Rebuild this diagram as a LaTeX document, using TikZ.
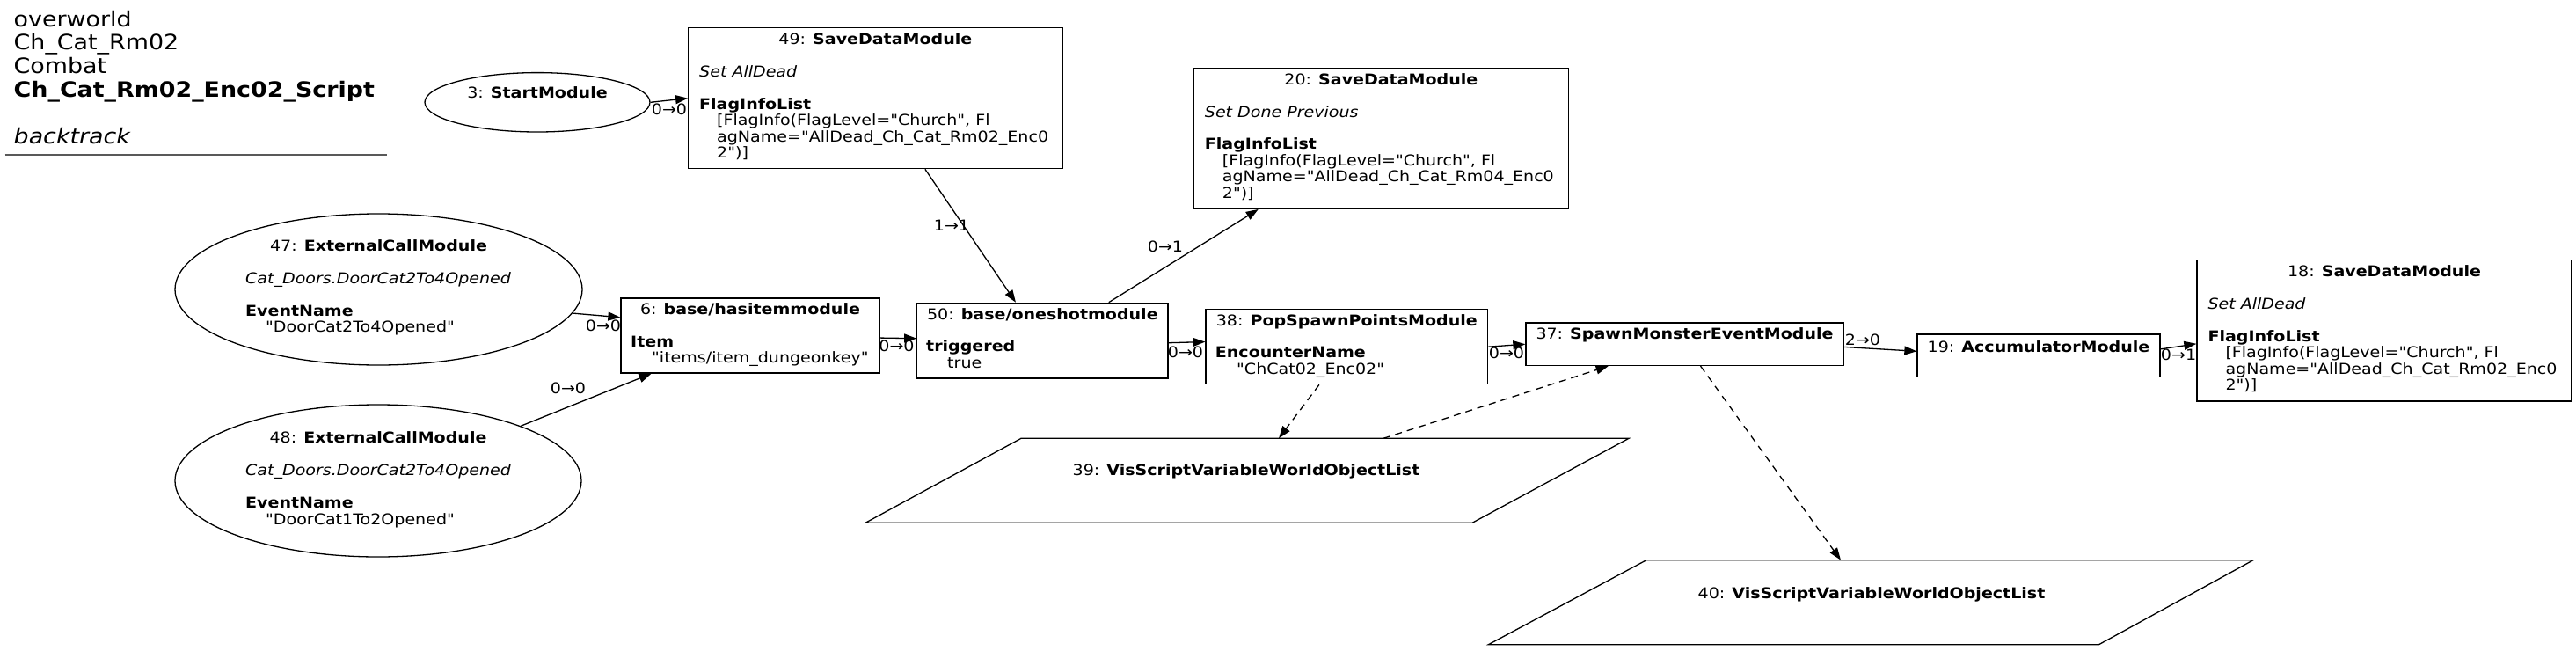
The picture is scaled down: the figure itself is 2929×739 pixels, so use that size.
\documentclass[tikz,border=0pt]{standalone}
\usepackage{fontspec}
\setmainfont{DejaVu Sans}[FakeStretch=1.12, Ligatures=TeXOff]
\usetikzlibrary{arrows.meta,shapes.geometric}
\begin{document}
\begin{tikzpicture}[x=1pt,y=-1pt,
  box/.style={draw, line width=1.3pt, inner sep=0pt},
  oval/.style={ellipse, draw, line width=1.3pt, inner sep=0pt},
  txt/.style={inner sep=0pt, anchor=base west, font=\fontsize{17}{18.4}\selectfont},
  ttl/.style={txt, anchor=base},
  lbl/.style={inner sep=0pt, font=\fontsize{17}{18.4}\selectfont},
  head/.style={inner sep=0pt, anchor=base west, font=\fontsize{24}{26.7}\selectfont},
  conn/.style={line width=1.3pt, -{Triangle[length=14pt,width=10pt]}},
  dconn/.style={conn, dash pattern=on 8pt off 6pt},
  para/.style={draw, line width=1.3pt}
]
\useasboundingbox (0,0) rectangle (2929,739);

% heading
\node[head] (h1) at (15.5,30) {overworld};
\node[head] (h2) at (15.5,56.7) {Ch\_Cat\_Rm02};
\node[head] (h3) at (15.5,83.4) {Combat};
\node[head] (h4) at (15.5,110.1) {\textbf{Ch\_Cat\_Rm02\_Enc02\_Script}};
\node[head] (h5) at (15.5,163.5) {\textit{backtrack}};
\draw[line width=2pt, black!65] (5.7,175.7) -- (440,175.7);

% ellipse 3
\node[oval, minimum width=256pt, minimum height=67.4pt] (e3) at (611,116.3) {};
\node[ttl] (t3) at (611,111) {3: \textbf{StartModule}};

% box 49
\node[box, minimum width=425.3pt, minimum height=160pt] (b49) at (995.4,111.7) {};
\node[ttl] (t49a) at (995.4,50.7) {49: \textbf{SaveDataModule}};
\node[txt] (t49b) at (795,87.5) {\textit{Set AllDead}};
\node[txt] (t49c) at (795,124.3) {\textbf{FlagInfoList}};
\node[txt] (t49d) at (815,142.7) {[FlagInfo(FlagLevel="Church", Fl};
\node[txt] (t49e) at (815,161.1) {agName="AllDead\_Ch\_Cat\_Rm02\_Enc0};
\node[txt] (t49f) at (815,179.5) {2")]};

% box 20
\node[box, minimum width=425.9pt, minimum height=160pt] (b20) at (1570.4,157.3) {};
\node[ttl] (t20a) at (1570.4,96.3) {20: \textbf{SaveDataModule}};
\node[txt] (t20b) at (1369.7,133.1) {\textit{Set Done Previous}};
\node[txt] (t20c) at (1369.7,169.9) {\textbf{FlagInfoList}};
\node[txt] (t20d) at (1389.7,188.3) {[FlagInfo(FlagLevel="Church", Fl};
\node[txt] (t20e) at (1389.7,206.7) {agName="AllDead\_Ch\_Cat\_Rm04\_Enc0};
\node[txt] (t20f) at (1389.7,225.1) {2")]};

% box 18
\node[box, minimum width=426pt, minimum height=160.3pt] (b18) at (2711,375.85) {};
\node[ttl] (t18a) at (2711,314.7) {18: \textbf{SaveDataModule}};
\node[txt] (t18b) at (2510.3,351.5) {\textit{Set AllDead}};
\node[txt] (t18c) at (2510.3,388.3) {\textbf{FlagInfoList}};
\node[txt] (t18d) at (2530.3,406.7) {[FlagInfo(FlagLevel="Church", Fl};
\node[txt] (t18e) at (2530.3,425.1) {agName="AllDead\_Ch\_Cat\_Rm02\_Enc0};
\node[txt] (t18f) at (2530.3,443.5) {2")]};

% ellipse 47
\node[oval, minimum width=463pt, minimum height=172pt] (e47) at (430.5,329) {};
\node[ttl] (t47a) at (430.5,285) {47: \textbf{ExternalCallModule}};
\node[txt] (t47b) at (279,322) {\textit{Cat\_Doors.DoorCat2To4Opened}};
\node[txt] (t47c) at (279,359) {\textbf{EventName}};
\node[txt] (t47d) at (302,377.5) {"DoorCat2To4Opened"};

% ellipse 48
\node[oval, minimum width=462pt, minimum height=173pt] (e48) at (430,546.5) {};
\node[ttl] (t48a) at (430,503.5) {48: \textbf{ExternalCallModule}};
\node[txt] (t48b) at (279,540.5) {\textit{Cat\_Doors.DoorCat2To4Opened}};
\node[txt] (t48c) at (279,577.5) {\textbf{EventName}};
\node[txt] (t48d) at (302,596) {"DoorCat1To2Opened"};

% box 6
\node[box, minimum width=294pt, minimum height=85pt] (b6) at (853,381.5) {};
\node[ttl] (t6a) at (853,357.3) {6: \textbf{base/hasitemmodule}};
\node[txt] (t6b) at (717,394.1) {\textbf{Item}};
\node[txt] (t6c) at (741,412.5) {"items/item\_dungeonkey"};

% box 50
\node[box, minimum width=285.3pt, minimum height=85.7pt] (b50) at (1185.4,387.2) {};
\node[ttl] (t50a) at (1185.4,363) {50: \textbf{base/oneshotmodule}};
\node[txt] (t50b) at (1053,399.8) {\textbf{triggered}};
\node[txt] (t50c) at (1077,418.2) {true};

% box 38
\node[box, minimum width=320.6pt, minimum height=85pt] (b38) at (1531.3,394.2) {};
\node[ttl] (t38a) at (1531.3,370.3) {38: \textbf{PopSpawnPointsModule}};
\node[txt] (t38b) at (1381.7,406.8) {\textbf{EncounterName}};
\node[txt] (t38c) at (1406,425.2) {"ChCat02\_Enc02"};

% box 37
\node[box, minimum width=361pt, minimum height=48.5pt] (b37) at (1915.5,391.25) {};
\node[ttl] (t37a) at (1915.5,385.5) {37: \textbf{SpawnMonsterEventModule}};

% box 19
\node[box, minimum width=276pt, minimum height=48.3pt] (b19) at (2318,404.15) {};
\node[ttl] (t19a) at (2318,400) {19: \textbf{AccumulatorModule}};

% parallelogram 39
\draw[para] (1161,498.3) -- (1852,498.3) -- (1674,594.3) -- (984,594.3) -- cycle;
\node[ttl] (t39) at (1417,540) {39: \textbf{VisScriptVariableWorldObjectList}};
\coordinate (c39in) at (1454,498.3);
\coordinate (c39out) at (1573,498.3);

% parallelogram 40
\draw[para] (1872,636.7) -- (2562,636.7) -- (2386.5,732.7) -- (1692.4,732.7) -- cycle;
\node[ttl] (t40) at (2128,680) {40: \textbf{VisScriptVariableWorldObjectList}};
\coordinate (c40in) at (2093,636.7);

% connectors
\draw[conn] (e3.east) -- (b49.west);
\draw[conn] (e47.-7) -- (b6.172.3);
\draw[conn] (e48.21.3) -- (b6.201);
\draw[conn] (b6.-1) -- (b50.179);
\draw[conn] (b49.-55.7) -- (b50.125.8);
\draw[conn] (b50.30.9) -- (b20.210.8);
\draw[conn] (b50.-1.1) -- (b38.178.5);
\draw[conn] (b38.east) -- (b37.west);
\draw[conn] (b37.-1.7) -- (b19.178);
\draw[conn] (b19.3.8) -- (b18.184.25);
\draw[dconn] (b38.-126.4) -- (c39in);
\draw[dconn] (c39out) -- (b37.196.9);
\draw[dconn] (b37.-54.2) -- (c40in);

% edge labels
\node[lbl] (l3) at (761,124) {0→0};
\node[lbl] (l47) at (686,370) {0→0};
\node[lbl] (l48) at (646,441.7) {0→0};
\node[lbl] (l6) at (1019.5,393) {0→0};
\node[lbl] (l49) at (1082,256.7) {1→1};
\node[lbl] (l50a) at (1348,400) {0→0};
\node[lbl] (l50b) at (1325,280) {0→1};
\node[lbl] (l38) at (1713,401.7) {0→0};
\node[lbl] (l37) at (2118,386.7) {2→0};
\node[lbl] (l19) at (2477,403.3) {0→1};
\end{tikzpicture}
\end{document}
